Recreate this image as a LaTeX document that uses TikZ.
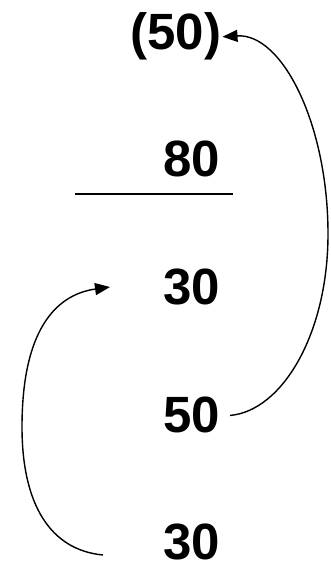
\documentclass[tikz,border=0pt]{standalone}
\usepackage{fontspec}
\setmainfont{Liberation Sans}
\usetikzlibrary{arrows.meta}
\begin{document}
\begin{tikzpicture}[x=1pt,y=1pt,
  num/.style={anchor=base east,inner sep=0pt,font=\fontsize{51}{51}\selectfont\bfseries},
  curvearrow/.style={line width=1.4pt,-{Triangle[length=15pt,width=12pt]}}]
\useasboundingbox (0,0) rectangle (330,564);
\node[num] (top) at (221.5,514) {(50)};
\node[num] (n80) at (220,387) {80};
\node[num] (n30a) at (220,259) {30};
\node[num] (n50) at (220,131) {50};
\node[num] (n30b) at (220,5) {30};
\coordinate (lineL) at (75,370);
\coordinate (lineR) at (233,370);
\draw[line width=1.6pt] (lineL) -- (lineR);
\coordinate (tipA) at (110,277);
\draw[curvearrow] ([xshift=10pt]n50.east) .. controls (282,153) and (328,230) .. (328,330)
  .. controls (328,440) and (282,531) .. ([xshift=1pt]top.east);
\draw[curvearrow] (103,9) .. controls (50,14) and (22,60) .. (22,137)
  .. controls (22,240) and (60,270) .. (tipA);
\end{tikzpicture}
\end{document}
